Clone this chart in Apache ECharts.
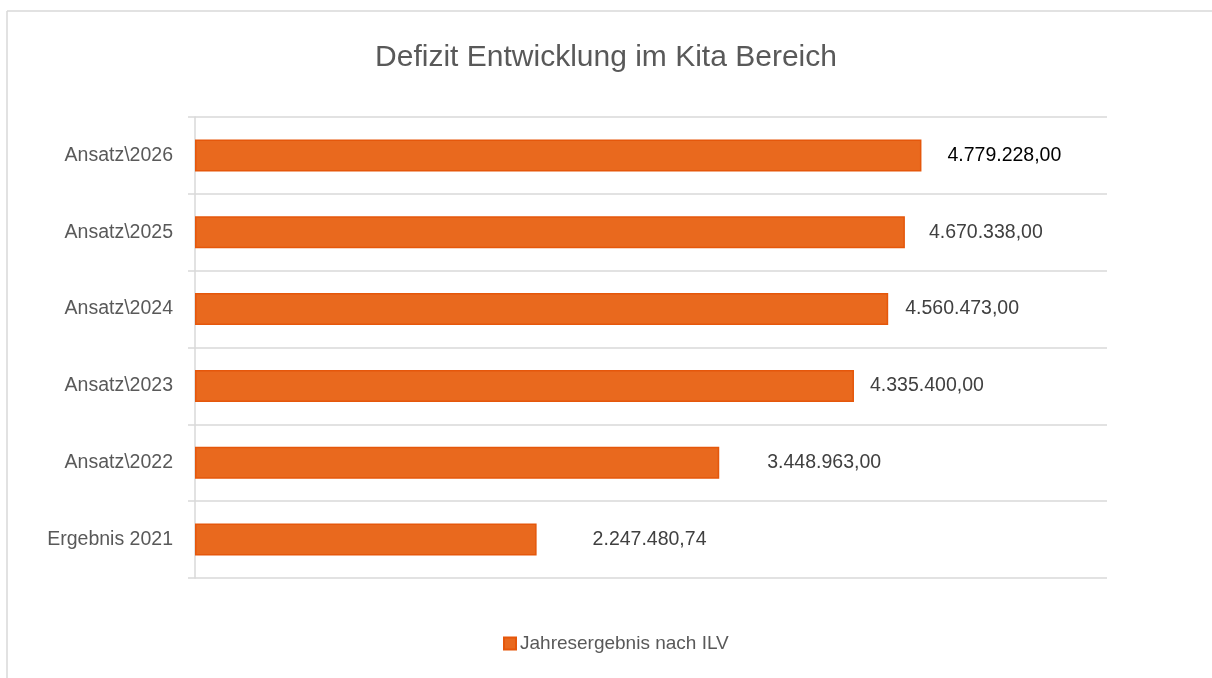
<!DOCTYPE html>
<html>
<head>
<meta charset="utf-8">
<script src="https://cdn.jsdelivr.net/npm/echarts@6/dist/echarts.min.js"></script>
<style>
  html, body { margin: 0; padding: 0; background: #fff; }
  #chart { width: 1212px; height: 678px; }
</style>
</head>
<body>
<div id="chart"></div>
<script>
// Kategorien von unten nach oben
var categories = ['Ergebnis 2021', 'Ansatz\\2022', 'Ansatz\\2023', 'Ansatz\\2024', 'Ansatz\\2025', 'Ansatz\\2026'];
var values = [2247480.74, 3448963.00, 4335400.00, 4560473.00, 4670338.00, 4779228.00];
var seriesName = 'Jahresergebnis nach ILV';
var chartTitle = 'Defizit Entwicklung im Kita Bereich';

var FONT = "'Liberation Sans Narrow', 'Arial Narrow', 'Liberation Sans', Arial, sans-serif";

// deutsches Zahlenformat 1.234.567,89
function fmtDE(v) {
	var parts = v.toFixed(2).split('.');
	var intPart = parts[0].replace(/\B(?=(\d{3})+(?!\d))/g, '.');
	return intPart + ',' + parts[1];
}

// Abstand der Beschriftung zum Balken (in Excel von Hand verschoben)
var labelGap = [56, 48, 16, 17, 24, 26];

var barData = values.map(function (v, i) {
	return {
		value: v,
		label: {
			distance: labelGap[i],
			color: i === values.length - 1 ? '#000000' : '#404040'
		}
	};
});

var chart = echarts.init(document.getElementById('chart'));
var option = {
	backgroundColor: '#ffffff',
	animation: false,
	textStyle: { fontFamily: FONT },
	title: {
		text: chartTitle,
		left: 'center',
		top: 38,
		textStyle: { fontFamily: FONT, fontSize: 30, fontWeight: 'normal', color: '#595959' }
	},
	legend: {
		data: [seriesName],
		bottom: 20,
		left: 498,
		itemWidth: 12,
		itemHeight: 12,
		itemGap: 4,
		icon: 'rect',
		textStyle: { fontFamily: FONT, fontSize: 19, color: '#595959', padding: [0, 0, 0, -1] }
	},
	grid: { left: 195, right: 105, top: 117, bottom: 100 },
	xAxis: {
		type: 'value',
		min: 0,
		max: 6000000,
		axisLabel: { show: false },
		axisLine: { show: false },
		axisTick: { show: false },
		splitLine: { show: false }
	},
	yAxis: {
		type: 'category',
		data: categories,
		axisLine: { show: true, lineStyle: { color: '#d9d9d9', width: 1.5 } },
		axisTick: { show: true, length: 7, lineStyle: { color: '#d9d9d9', width: 1.5 } },
		splitLine: { show: true, lineStyle: { color: '#d9d9d9', width: 1.5 } },
		axisLabel: { margin: 22, fontFamily: FONT, fontSize: 19.5, color: '#595959' }
	},
	series: [{
		name: seriesName,
		type: 'bar',
		data: barData,
		barWidth: 32,
		itemStyle: { color: '#E9691E', borderColor: '#E5570B', borderWidth: 1.5 },
		label: {
			show: true,
			position: 'right',
			fontFamily: FONT,
			fontSize: 19.5,
			formatter: function (p) { return fmtDE(p.value); }
		}
	}],
	graphic: [
		{ type: 'line', shape: { x1: 7, y1: 11, x2: 1212, y2: 11 }, style: { stroke: '#d9d9d9', lineWidth: 1.5 } },
		{ type: 'line', shape: { x1: 7, y1: 11, x2: 7, y2: 678 }, style: { stroke: '#d9d9d9', lineWidth: 1.5 } }
	]
};
chart.setOption(option);
</script>
</body>
</html>
